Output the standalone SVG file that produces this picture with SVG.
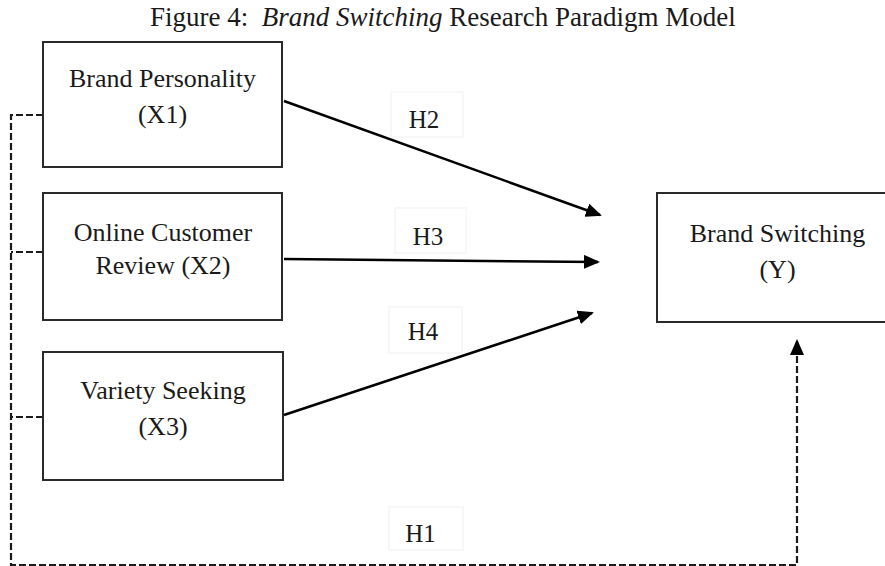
<svg xmlns="http://www.w3.org/2000/svg" width="885" height="566" viewBox="0 0 885 566">
<style>
  text { font-family: "Liberation Serif", "Times New Roman", serif; fill: #1a1a1a; }
  .node rect { fill: #fff; stroke: #2a2a2a; stroke-width: 2; }
  .lbl { font-size: 26px; text-anchor: middle; }
  .h rect { fill: none; stroke: #f0f0f0; stroke-width: 1; }
  .h text { font-size: 25px; text-anchor: middle; }
  .solid { fill: none; stroke: #000; stroke-width: 2.5; }
  .dash { fill: none; stroke: #1a1a1a; stroke-width: 2.2; stroke-dasharray: 7 3; }
</style>
<defs>
  <marker id="ah" markerUnits="userSpaceOnUse" markerWidth="16" markerHeight="14" refX="14" refY="7" orient="auto">
    <path d="M0,0 L16,7 L0,14 Z" fill="#000"/>
  </marker>
</defs>
<rect width="885" height="566" fill="#fff"/>
<text x="150" y="26" font-size="27">Figure 4:&#160; <tspan font-style="italic">Brand Switching</tspan> Research Paradigm Model</text>

<g id="connectors">
  <path class="dash" d="M43,115 H11 V565 H797 V341" marker-end="url(#ah)"/>
  <path class="dash" d="M43,252 H11"/>
  <path class="dash" d="M43,417 H11"/>
  <line class="solid" x1="284" y1="101" x2="600" y2="215" marker-end="url(#ah)"/>
  <line class="solid" x1="284" y1="259" x2="598" y2="262" marker-end="url(#ah)"/>
  <line class="solid" x1="284" y1="415" x2="592" y2="313" marker-end="url(#ah)"/>
</g>

<g id="x1" class="node">
  <rect x="43" y="42" width="239" height="125"/>
  <text class="lbl" x="162.5" y="87">Brand Personality</text>
  <text class="lbl" x="162.5" y="123">(X1)</text>
</g>
<g id="x2" class="node">
  <rect x="43" y="193" width="239" height="127"/>
  <text class="lbl" x="163" y="241">Online Customer</text>
  <text class="lbl" x="163" y="274">Review (X2)</text>
</g>
<g id="x3" class="node">
  <rect x="43" y="352" width="240" height="128"/>
  <text class="lbl" x="163" y="399">Variety Seeking</text>
  <text class="lbl" x="163" y="435">(X3)</text>
</g>
<g id="y" class="node">
  <rect x="657" y="193" width="241" height="129"/>
  <text class="lbl" x="777.5" y="242">Brand Switching</text>
  <text class="lbl" x="777.5" y="278">(Y)</text>
</g>

<g id="h2" class="h">
  <rect x="391" y="92" width="72" height="45"/>
  <text x="424" y="128">H2</text>
</g>
<g id="h3" class="h">
  <rect x="395" y="208" width="71" height="45"/>
  <text x="428" y="245">H3</text>
</g>
<g id="h4" class="h">
  <rect x="389" y="307" width="73" height="46"/>
  <text x="423" y="340">H4</text>
</g>
<g id="h1" class="h">
  <rect x="389" y="507" width="74" height="43"/>
  <text x="420.5" y="542">H1</text>
</g>
</svg>
